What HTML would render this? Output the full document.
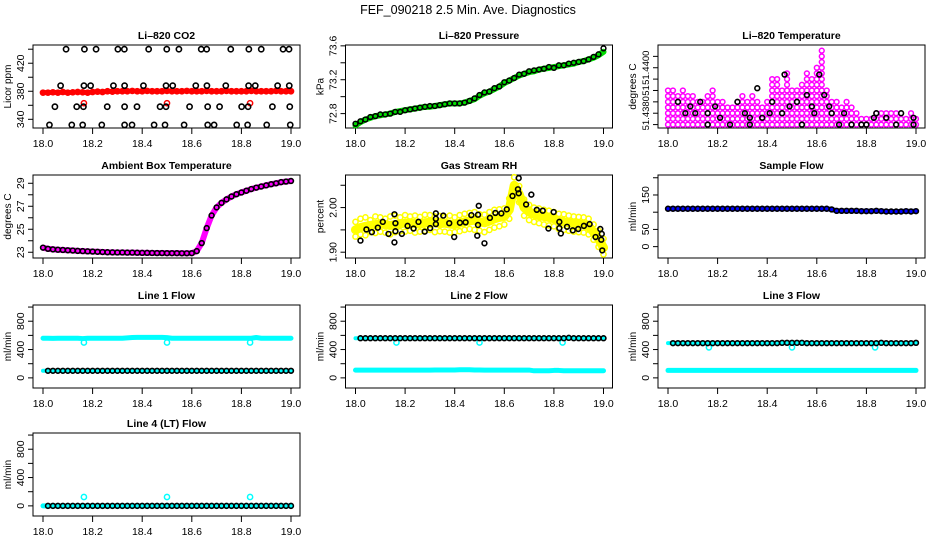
<!DOCTYPE html>
<html><head><meta charset="utf-8"><title>FEF_090218 Diagnostics</title>
<style>
html,body{margin:0;padding:0;background:#fff;}
svg{display:block;font-family:"Liberation Sans",Arial,sans-serif;}
</style></head>
<body>
<svg id="chart" width="936" height="540" viewBox="0 0 936 540" xmlns="http://www.w3.org/2000/svg">
<rect width="936" height="540" fill="#fff"/>
<text x="468" y="14" font-size="12.5" text-anchor="middle">FEF_090218  2.5 Min. Ave. Diagnostics</text>
</svg>
<script>
// ---- shared data ----
const xTicks = [18.0, 18.2, 18.4, 18.6, 18.8, 19.0];
const xTickLabels = ["18.0", "18.2", "18.4", "18.6", "18.8", "19.0"];
const times = [];
for (let i = 0; i <= 50; i++) times.push(18 + i * 0.02);

// CO2
const co2Red = [378,378,378.5,378,379,378,378.5,379,378.5,378,379,379.5,379,380,379.5,380,380,380,380.5,380,380,380.5,380,380,380,380.5,380,380,380,380.5,380,380,380,380.5,380,380,380,380.5,380,380,380,380,380.5,380,380,380,380,380.5,380,380,380];
const co2RedOutX = [18.165, 18.5, 18.835];
const co2RedOutY = [363, 363, 363];
const co2BlackX = [18.093,18.167,18.214,18.302,18.328,18.426,18.499,18.548,18.638,18.66,18.757,18.83,18.88,18.968,18.992,
 18.071,18.165,18.192,18.284,18.329,18.405,18.496,18.523,18.616,18.661,18.737,18.829,18.856,18.946,18.993,
 18.048,18.136,18.163,18.259,18.329,18.379,18.472,18.496,18.591,18.664,18.712,18.801,18.827,18.925,18.995,
 18.026,18.116,18.160,18.237,18.329,18.359,18.448,18.492,18.569,18.664,18.690,18.781,18.825,18.902,18.997];
const co2BlackY = [440,440,440,440,440,440,440,440,440,440,440,440,440,440,440,
 388,388,388,388,388,388,388,388,388,388,388,388,388,388,388,
 358,358,358,358,358,358,358,358,358,358,358,358,358,358,358,
 332,332,332,332,332,332,332,332,332,332,332,332,332,332,332];

// Pressure
const presGreen = [72.66,72.70,72.73,72.75,72.77,72.78,72.79,72.80,72.82,72.83,72.84,72.85,72.86,72.87,72.88,72.88,72.89,72.90,72.91,72.92,72.92,72.92,72.93,72.95,72.97,73.01,73.04,73.06,73.09,73.12,73.16,73.19,73.22,73.25,73.27,73.29,73.30,73.32,73.33,73.34,73.35,73.36,73.37,73.38,73.39,73.41,73.42,73.44,73.46,73.49,73.53];
const presBlack = [72.68,72.71,72.73,72.76,72.77,72.79,72.79,72.80,72.82,72.82,72.84,72.85,72.86,72.87,72.88,72.89,72.89,72.90,72.91,72.92,72.92,72.92,72.93,72.95,72.98,73.02,73.05,73.06,73.10,73.12,73.17,73.19,73.22,73.26,73.27,73.30,73.31,73.32,73.33,73.35,73.34,73.37,73.37,73.39,73.40,73.41,73.42,73.44,73.47,73.50,73.57];

// Li-820 temperature
const tempHi = [51.4391,51.4391,51.4388,51.4391,51.4388,51.4388,51.4385,51.4385,51.4388,51.4391,51.4385,51.4385,51.4383,51.4383,51.4385,51.4388,51.4385,51.4388,51.4385,51.4383,51.4385,51.4396,51.4396,51.4391,51.4399,51.4391,51.4391,51.4393,51.4399,51.4396,51.4402,51.4409,51.4391,51.4385,51.4385,51.4383,51.4385,51.4383,51.4380,51.4378,51.4378,51.4378,51.4380,51.4380,51.4380,51.4380,51.4380,51.4378,51.4378,51.4380,51.4378];
const tempBlackX = [18.04,18.07,18.09,18.13,18.11,18.16,18.16,18.19,18.21,18.25,18.28,18.31,18.33,18.33,18.36,18.38,18.41,18.42,18.47,18.46,18.49,18.52,18.54,18.56,18.58,18.59,18.61,18.63,18.65,18.66,18.69,18.71,18.74,18.78,18.80,18.83,18.84,18.88,18.92,18.94,18.99,18.99];
const tempBlackY = [51.4385,51.4380,51.4383,51.4385,51.4380,51.4375,51.4380,51.4383,51.4378,51.4375,51.4385,51.4380,51.4378,51.4375,51.4391,51.4378,51.4380,51.4385,51.4397,51.4380,51.4383,51.4385,51.4375,51.4388,51.4383,51.4380,51.4397,51.4388,51.4383,51.4380,51.4375,51.4380,51.4375,51.4375,51.4375,51.4378,51.4380,51.4378,51.4375,51.4380,51.4378,51.4375];

// Ambient box temperature
const ambient = [23.40,23.30,23.25,23.22,23.20,23.17,23.15,23.12,23.10,23.08,23.06,23.04,23.02,23.00,22.99,22.98,22.98,22.97,22.97,22.96,22.95,22.95,22.94,22.93,22.93,22.92,22.92,22.92,22.91,22.91,22.92,23.10,23.80,25.10,26.20,26.90,27.30,27.60,27.85,28.05,28.20,28.35,28.50,28.62,28.72,28.82,28.92,29.00,29.10,29.15,29.20];

// Gas stream RH
const rhYellow = [1.950,1.955,1.958,1.960,1.962,1.963,1.962,1.960,1.962,1.964,1.965,1.966,1.964,1.963,1.966,1.967,1.966,1.964,1.965,1.963,1.962,1.965,1.968,1.970,1.972,1.968,1.966,1.970,1.975,1.978,1.980,1.995,2.050,2.030,2.000,1.990,1.985,1.982,1.980,1.978,1.975,1.970,1.968,1.966,1.965,1.963,1.962,1.958,1.945,1.930,1.910];
const rhYellowHi = [1.968,1.975,1.978,1.972,1.980,1.978,1.975,1.980,1.982,1.978,1.983,1.980,1.982,1.979,1.984,1.983,1.980,1.981,1.979,1.982,1.978,1.983,1.986,1.988,1.990,1.985,1.984,1.990,1.995,1.996,1.998,2.020,2.068,2.048,2.018,2.006,2.000,1.998,1.995,1.993,1.990,1.986,1.985,1.982,1.980,1.979,1.978,1.975,1.962,1.948,1.930];
const rhYellowLo = [1.935,1.940,1.938,1.945,1.943,1.946,1.944,1.940,1.945,1.947,1.946,1.948,1.944,1.946,1.948,1.950,1.945,1.947,1.946,1.944,1.945,1.947,1.950,1.952,1.950,1.948,1.945,1.950,1.955,1.958,1.962,1.975,2.030,2.012,1.982,1.972,1.968,1.965,1.962,1.960,1.958,1.952,1.950,1.948,1.946,1.945,1.944,1.940,1.928,1.912,1.895];
const rhBlackX = [18.020,18.044,18.066,18.09,18.110,18.133,18.157,18.157,18.161,18.161,18.187,18.21,18.234,18.254,18.279,18.301,18.324,18.324,18.324,18.354,18.378,18.398,18.421,18.444,18.467,18.491,18.494,18.494,18.497,18.52,18.542,18.564,18.588,18.61,18.633,18.655,18.658,18.658,18.709,18.688,18.731,18.755,18.778,18.799,18.822,18.822,18.828,18.853,18.876,18.898,18.921,18.944,18.968,18.987,18.991,18.993,18.995];
const rhBlackY = [1.926,1.951,1.945,1.955,1.968,1.941,1.985,1.922,1.947,1.965,1.941,1.959,1.953,1.968,1.946,1.954,1.987,1.975,1.963,1.982,1.965,1.934,1.966,1.967,1.983,1.937,1.961,1.984,2.004,1.920,1.977,1.988,1.987,1.996,2.026,2.041,2.066,2.032,2.029,2.007,1.995,1.993,1.953,1.990,1.968,1.954,1.942,1.957,1.949,1.952,1.959,1.963,1.934,1.952,1.928,1.941,1.904];

// Sample flow
const sampleBlue = [110,110,110,110,110,110,110,110,110,110,110,110,110,110,110,110,110,110,110,110,110,110,110,110,110,110,110,110,110,110,110,110,110,108,104,104,104,104,104,103,103,103,104,103,102,102,102,102,103,102,103];

// Line flows
const line1High = [560,560,558,560,560,560,560,560,555,560,560,560,560,560,560,560,560,565,570,572,572,572,572,572,572,568,560,560,560,560,560,560,560,560,560,560,560,560,560,560,560,560,560,570,560,560,560,560,560,560,560];
const line1Low = [100,100,100,100,100,100,100,100,100,100,100,100,100,100,100,100,100,100,100,100,100,100,100,100,100,100,100,100,100,100,100,100,100,100,100,100,100,100,100,100,100,100,100,100,100,100,100,100,100,100,100];
const line2High = [560,560,560,560,560,560,560,560,560,560,560,560,560,560,560,560,560,560,560,560,560,560,560,560,560,560,560,560,560,560,560,560,560,560,560,560,560,560,560,560,560,560,560,565,560,560,560,560,560,560,560];
const line2Low = [110,110,110,110,110,110,110,110,110,110,110,110,110,110,110,110,112,112,112,112,112,115,115,115,112,112,110,110,110,110,110,110,110,110,110,110,100,100,100,100,105,105,100,100,100,100,100,100,100,100,100];
const line3High = [490,490,490,490,490,490,490,490,490,490,490,490,490,490,490,490,490,490,490,490,490,490,490,495,495,495,495,495,490,490,490,490,490,490,490,490,490,490,490,490,490,490,490,495,490,490,490,490,490,490,495];
const line3Low = [105,105,105,105,105,105,105,105,105,105,105,105,105,105,105,105,105,105,105,105,105,105,105,105,105,105,105,105,105,105,105,105,105,105,105,105,105,105,105,105,105,105,105,105,105,105,105,105,105,105,105];
const line4Flow = [0,0,0,0,0,0,0,0,0,0,0,0,0,0,0,0,0,0,0,0,0,0,0,0,0,0,0,0,0,0,0,0,0,0,0,0,0,0,0,0,0,0,0,0,0,0,0,0,0,0,0];
const flowOutX = [18.165, 18.5, 18.835];
const line1OutY = [500, 500, 500];
const line2OutY = [500, 500, 500];
const line3OutY = [430, 430, 430];
const line4OutY = [125, 125, 125];

// ---- drawing ----
const NS = "http://www.w3.org/2000/svg";
const svg = document.getElementById("chart");
const rowTops = [45, 175, 305, 433];
function mk(tag, parent) { const e = document.createElementNS(NS, tag); parent.appendChild(e); return e; }

function makePanel(col, row, title, ylab, ylim, yTicks, yLabels, yFont) {
  const g = mk("g", svg);
  const bx0 = 33 + 312.5 * col, bx1 = bx0 + 267;
  const by0 = rowTops[row], by1 = by0 + 83;
  const x0 = 43 + 312.5 * col;
  const sx = v => x0 + (v - 18) * 248;
  const sy = v => by1 - (v - ylim[0]) / (ylim[1] - ylim[0]) * 83;
  const box = mk("rect", g);
  
  
  box.setAttribute("x", bx0); box.setAttribute("y", by0);
  box.setAttribute("width", 267); box.setAttribute("height", 83);
  box.setAttribute("fill", "none"); box.setAttribute("stroke", "#000"); box.setAttribute("stroke-width", "1");
  const t = mk("text", g);
  
  
  t.setAttribute("x", (bx0 + bx1) / 2); t.setAttribute("y", by0 - 6);
  t.setAttribute("text-anchor", "middle"); t.setAttribute("font-size", "10.5"); t.setAttribute("font-weight", "bold");
  t.textContent = title;
  const yl = mk("text", g);
  
  
  yl.setAttribute("transform", `translate(${bx0 - 22},${(by0 + by1) / 2}) rotate(-90)`);
  yl.setAttribute("text-anchor", "middle"); yl.setAttribute("font-size", "10");
  yl.textContent = ylab;
  xTicks.forEach((v, i) => {
    const l = mk("line", g);
    
    
    l.setAttribute("x1", sx(v)); l.setAttribute("x2", sx(v));
    l.setAttribute("y1", by1); l.setAttribute("y2", by1 + 6);
    l.setAttribute("stroke", "#000");
    const tx = mk("text", g);
    
    
    tx.setAttribute("x", sx(v)); tx.setAttribute("y", by1 + 19);
    tx.setAttribute("text-anchor", "middle"); tx.setAttribute("font-size", "10.5");
    tx.textContent = xTickLabels[i];
  });
  yTicks.forEach((v, i) => {
    const l = mk("line", g);
    
    
    l.setAttribute("x1", bx0 - 5); l.setAttribute("x2", bx0);
    l.setAttribute("y1", sy(v)); l.setAttribute("y2", sy(v));
    l.setAttribute("stroke", "#000");
    if (yLabels[i]) {
      const tx = mk("text", g);
      
      
      tx.setAttribute("transform", `translate(${bx0 - 9},${sy(v)}) rotate(-90)`);
      tx.setAttribute("text-anchor", "middle"); tx.setAttribute("font-size", yFont || "10.5");
      tx.textContent = yLabels[i];
    }
  });
  return { g, sx, sy };
}

function pts(p, xs, ys, color, r, sw, name) {
  xs.forEach((x, i) => {
    const c = mk("circle", p.g);
    
    
    c.setAttribute("cx", p.sx(x)); c.setAttribute("cy", p.sy(ys[i]));
    c.setAttribute("r", r); c.setAttribute("fill", "none");
    c.setAttribute("stroke", color); c.setAttribute("stroke-width", sw);
  });
}
function band(p, xs, ys, color, w, name) {
  const l = mk("polyline", p.g);
  
  
  l.setAttribute("points", xs.map((x, i) => p.sx(x) + "," + p.sy(ys[i])).join(" "));
  l.setAttribute("fill", "none"); l.setAttribute("stroke", color);
  l.setAttribute("stroke-width", w); l.setAttribute("stroke-linejoin", "round"); l.setAttribute("stroke-linecap", "round");
}

// Panel 1: CO2
let p = makePanel(0, 0, "Li\u2013820 CO2", "Licor ppm", [327.6, 446], [340,360,380,400,420,440], ["340","","380","","420",""]);
band(p, times, co2Red, "#ff0000", 5, "co2-band");
pts(p, times, co2Red, "#ff0000", 2.6, 1.5, "co2-red-point");
pts(p, co2RedOutX, co2RedOutY, "#ff0000", 2.6, 1.5, "co2-red-outlier");
pts(p, co2BlackX, co2BlackY, "#000", 2.6, 1.6, "co2-black-point");

// Panel 2: Pressure
p = makePanel(1, 0, "Li\u2013820 Pressure", "kPa", [72.63, 73.61], [72.8,73.0,73.2,73.4,73.6], ["72.8","","73.2","","73.6"]);
band(p, times, presGreen, "#00dd00", 6, "pressure-band");
pts(p, times, presBlack, "#000", 2.4, 1.5, "pressure-black-point");

// Panel 3: Li-820 temperature (discrete sensor levels, 0.00025 resolution)
p = makePanel(2, 0, "Li\u2013820 Temperature", "degrees C", [51.43735, 51.4410], [51.4375,51.4380,51.4385,51.4390,51.4395,51.4400,51.4405], ["","51.4380","","51","","51.4400",""], "9.5");
const tempFloor = 51.4375, tempStep = 0.00025;
times.forEach((t, i) => {
  const xsL = [], ysL = [];
  for (let v = tempFloor; v <= tempHi[i] + 1e-7; v += tempStep) { xsL.push(t); ysL.push(v); }
  pts(p, xsL, ysL, "#ff00ff", 2.4, 1.5, "temperature-magenta-point");
});
pts(p, tempBlackX, tempBlackY, "#000", 2.4, 1.6, "temperature-black-point");

// Panel 4: Ambient
p = makePanel(0, 1, "Ambient Box Temperature", "degrees C", [22.5, 29.72], [23,24,25,26,27,28,29], ["23","","25","","27","","29"]);
band(p, times, ambient, "#ff00ff", 6, "ambient-band");
pts(p, times, ambient, "#000", 2.4, 1.6, "ambient-black-point");

// Panel 5: RH
p = makePanel(1, 1, "Gas Stream RH", "percent", [1.887, 2.073], [1.90,1.95,2.00,2.05], ["1.90","","2.00",""]);
band(p, times, rhYellow, "#ffff00", 9, "rh-band");
pts(p, times, rhYellow, "#ffff00", 2.6, 1.5, "rh-yellow-point");
pts(p, times, rhYellowHi, "#ffff00", 2.6, 1.5, "rh-yellow-point-high");
pts(p, times, rhYellowLo, "#ffff00", 2.6, 1.5, "rh-yellow-point-low");
pts(p, rhBlackX, rhBlackY, "#000", 2.4, 1.6, "rh-black-point");

// Panel 6: Sample flow
p = makePanel(2, 1, "Sample Flow", "ml/min", [-33, 208], [0,50,100,150,200], ["0","50","","150",""]);
band(p, times, sampleBlue, "#0000ff", 5, "sample-band");
pts(p, times, sampleBlue, "#000", 2.4, 1.6, "sample-black-point");

const flowTicks = [0,200,400,600,800,1000];
const flowLabels = ["0","","400","","800",""];
// Panel 7: Line 1
p = makePanel(0, 2, "Line 1 Flow", "ml/min", [-143, 1029], flowTicks, flowLabels);
band(p, times, line1High, "#00ffff", 5, "line1-high-band");
pts(p, flowOutX, line1OutY, "#00ffff", 2.6, 1.5, "line1-outlier");
band(p, times, line1Low, "#00ffff", 4, "line1-low-band");
pts(p, times.slice(1), line1Low.slice(1), "#000", 2.4, 1.6, "line1-black-point");

// Panel 8: Line 2
p = makePanel(1, 2, "Line 2 Flow", "ml/min", [-143, 1029], flowTicks, flowLabels);
band(p, times, line2Low, "#00ffff", 5, "line2-low-band");
band(p, times, line2High, "#00ffff", 4, "line2-high-band");
pts(p, flowOutX, line2OutY, "#00ffff", 2.6, 1.5, "line2-outlier");
pts(p, times.slice(1), line2High.slice(1), "#000", 2.4, 1.6, "line2-black-point");

// Panel 9: Line 3
p = makePanel(2, 2, "Line 3 Flow", "ml/min", [-143, 1029], flowTicks, flowLabels);
band(p, times, line3Low, "#00ffff", 5, "line3-low-band");
band(p, times, line3High, "#00ffff", 4, "line3-high-band");
pts(p, flowOutX, line3OutY, "#00ffff", 2.6, 1.5, "line3-outlier");
pts(p, times.slice(1), line3High.slice(1), "#000", 2.4, 1.6, "line3-black-point");

// Panel 10: Line 4
p = makePanel(0, 3, "Line 4 (LT) Flow", "ml/min", [-143, 1029], flowTicks, flowLabels);
band(p, times, line4Flow, "#00ffff", 5, "line4-band");
pts(p, flowOutX, line4OutY, "#00ffff", 2.6, 1.5, "line4-outlier");
pts(p, times.slice(1), line4Flow.slice(1), "#000", 2.4, 1.6, "line4-black-point");
</script>
</body></html>
